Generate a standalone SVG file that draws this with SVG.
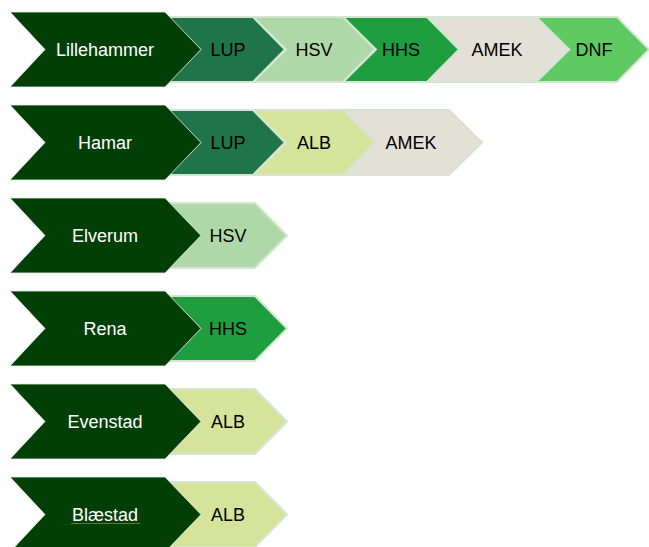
<svg xmlns="http://www.w3.org/2000/svg" width="649" height="547" viewBox="0 0 649 547">
<style>
.big{fill:#023f06;stroke:#e8f0e6;stroke-width:0.8}
.sm{stroke:#d5e5d1;stroke-width:2;stroke-linejoin:miter}
.lup{fill:#20744a}.hsv{fill:#aed8a7}.hhs{fill:#1e9e3f}.amek{fill:#e3e0d7}.dnf{fill:#5fc964}.alb{fill:#d5e39b}
text{font-family:"Liberation Sans","Open Sans",Arial,sans-serif;font-size:18px;text-anchor:middle}
.w{fill:#ffffff}.k{fill:#000000}
</style>
<rect width="649" height="547" fill="#ffffff"/>
<g id="connectors"></g>
<!-- Row 1 -->
<g id="row1-dnf"><polygon class="sm dnf" points="536,17 617,17 649,49.5 617,82 536,82 569,49.5"/><text class="k" x="594" y="56">DNF</text></g>
<g id="row1-amek"><polygon class="sm amek" points="427,17 536,17 569,49.5 536,82 427,82 460,49.5"/><text class="k" x="497" y="56">AMEK</text></g>
<g id="row1-hhs"><polygon class="sm hhs" points="343,17 427,17 459,49.5 427,82 343,82 376,49.5"/><text class="k" x="401" y="56">HHS</text></g>
<g id="row1-hsv"><polygon class="sm hsv" points="253,17 343,17 375,49.5 343,82 253,82 286,49.5"/><text class="k" x="314" y="56">HSV</text></g>
<g id="row1-lup"><polygon class="sm lup" points="167,17 253,17 285,49.5 253,82 167,82 200,49.5"/><text class="k" x="228" y="56">LUP</text></g>
<g id="lillehammer"><polygon class="big" points="10,12 165,12 201,49.5 165,87 10,87 45,49.5"/><text class="w" x="105" y="56">Lillehammer</text></g>
<!-- Row 2 -->
<g id="row2-amek"><polygon class="sm amek" points="343,110 449,110 482,142.5 449,175 343,175 376,142.5"/><text class="k" x="411" y="149">AMEK</text></g>
<g id="row2-alb"><polygon class="sm alb" points="253,110 343,110 375,142.5 343,175 253,175 286,142.5"/><text class="k" x="314" y="149">ALB</text></g>
<g id="row2-lup"><polygon class="sm lup" points="167,110 253,110 285,142.5 253,175 167,175 200,142.5"/><text class="k" x="228" y="149">LUP</text></g>
<g id="hamar"><polygon class="big" points="10,105 165,105 201,142.5 165,180 10,180 45,142.5"/><text class="w" x="105" y="149">Hamar</text></g>
<!-- Row 3 -->
<g id="row3-hsv"><polygon class="sm hsv" points="167,203 255,203 287,235.5 255,268 167,268 200,235.5"/><text class="k" x="228" y="242">HSV</text></g>
<g id="elverum"><polygon class="big" points="10,198 165,198 201,235.5 165,273 10,273 45,235.5"/><text class="w" x="105" y="242">Elverum</text></g>
<!-- Row 4 -->
<g id="row4-hhs"><polygon class="sm hhs" points="167,296 255,296 287,328.5 255,361 167,361 200,328.5"/><text class="k" x="228" y="335">HHS</text></g>
<g id="rena"><polygon class="big" points="10,291 165,291 201,328.5 165,366 10,366 45,328.5"/><text class="w" x="105" y="335">Rena</text></g>
<!-- Row 5 -->
<g id="row5-alb"><polygon class="sm alb" points="167,389 255,389 287,421.5 255,454 167,454 200,421.5"/><text class="k" x="228" y="428">ALB</text></g>
<g id="evenstad"><polygon class="big" points="10,384 165,384 201,421.5 165,459 10,459 45,421.5"/><text class="w" x="105" y="428">Evenstad</text></g>
<!-- Row 6 -->
<g id="row6-alb"><polygon class="sm alb" points="167,482 255,482 287,514.5 255,547 167,547 200,514.5"/><text class="k" x="228" y="521">ALB</text></g>
<g id="blaestad"><polygon class="big" points="10,477 165,477 201,514.5 165,552 10,552 45,514.5"/><text class="w" x="105" y="521">Blæstad</text><line x1="71" y1="523.5" x2="140" y2="523.5" stroke="#b0502c" stroke-width="1"/></g>
</svg>
